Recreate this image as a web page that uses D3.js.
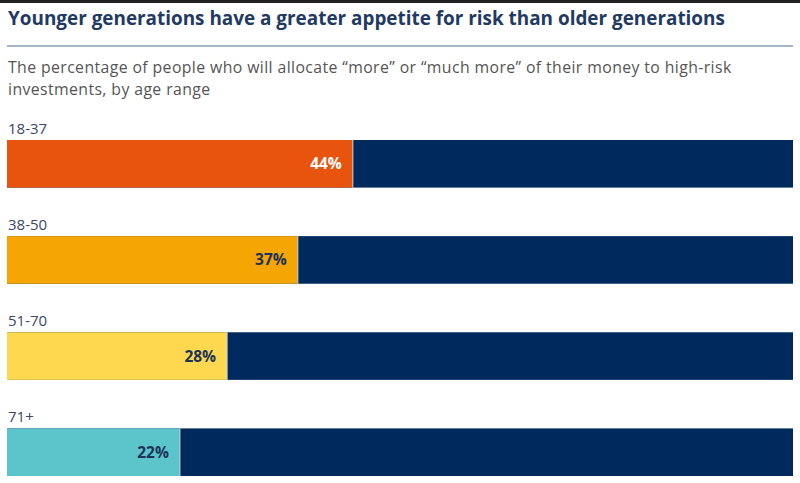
<!DOCTYPE html>
<html><head><meta charset="utf-8">
<script src="https://cdn.jsdelivr.net/npm/d3@7"></script>
<style>body{margin:0;background:#fff}svg{display:block}</style>
</head><body>
<svg id="c" width="800" height="483"></svg>
<script>
const categories = ["18-37", "38-50", "51-70", "71+"];
const values = [44, 37, 28, 22];
const barColors = ["#e8540d", "#f5a602", "#fed84f", "#5cc5cc"];
const labelColors = ["#ffffff", "#1c3358", "#1c3358", "#1c3358"];
const restColor = "#002a5e";
const FONT = "'Open Sans', Lato, sans-serif";

const svg = d3.select("#c");
svg.append("rect").attr("x",0).attr("y",0).attr("width",800).attr("height",3).attr("fill","#222");

svg.append("text").attr("x",8).attr("y",25)
  .attr("font-family",FONT).attr("font-weight",700).attr("font-size",18.9)
  .attr("fill","#1f3a64").text("Younger generations have a greater appetite for risk than older generations");
svg.append("line").attr("x1",7).attr("x2",793).attr("y1",46).attr("y2",46)
  .attr("stroke","#a7b5c8").attr("stroke-width",2);
const sub = ["The percentage of people who will allocate \u201cmore\u201d or \u201cmuch more\u201d of their money to high-risk","investments, by age range"];
sub.forEach((s,i)=>svg.append("text").attr("x",8).attr("y",73+i*22)
  .attr("font-family",FONT).attr("font-size",15.8).attr("letter-spacing",0.4)
  .attr("fill","#555").text(s));

const x = d3.scaleLinear().domain([0,100]).range([7,793]);
const y = d3.scaleBand().domain(categories).range([140,476]).paddingInner(0.505).paddingOuter(0);

const rows = svg.append("g").selectAll("g.row").data(categories).join("g").attr("class","row")
  .attr("transform",d=>`translate(0,${y(d)})`);
rows.append("text").attr("x",8).attr("y",-6)
  .attr("font-family",FONT).attr("font-size",15).attr("font-weight",500)
  .attr("fill","#3a4768").text(d=>d);
rows.append("rect").attr("x",x(0)).attr("y",0).attr("width",x(100)-x(0)).attr("height",y.bandwidth()).attr("fill",restColor);
rows.append("rect").attr("x",x(0)).attr("y",0).attr("width",(d,i)=>x(values[i])-x(0)).attr("height",y.bandwidth())
  .attr("fill",(d,i)=>barColors[i]);
rows.append("line").attr("x1",(d,i)=>x(values[i])).attr("x2",(d,i)=>x(values[i])).attr("y1",0).attr("y2",y.bandwidth())
  .attr("stroke","#cfd6e0").attr("stroke-width",1);
rows.append("text").attr("x",(d,i)=>x(values[i])-11).attr("y",y.bandwidth()/2+5.5)
  .attr("text-anchor","end").attr("font-family",FONT).attr("font-weight",700).attr("font-size",15.5)
  .attr("fill",(d,i)=>labelColors[i]).text((d,i)=>values[i]+"%");
</script>
</body></html>
